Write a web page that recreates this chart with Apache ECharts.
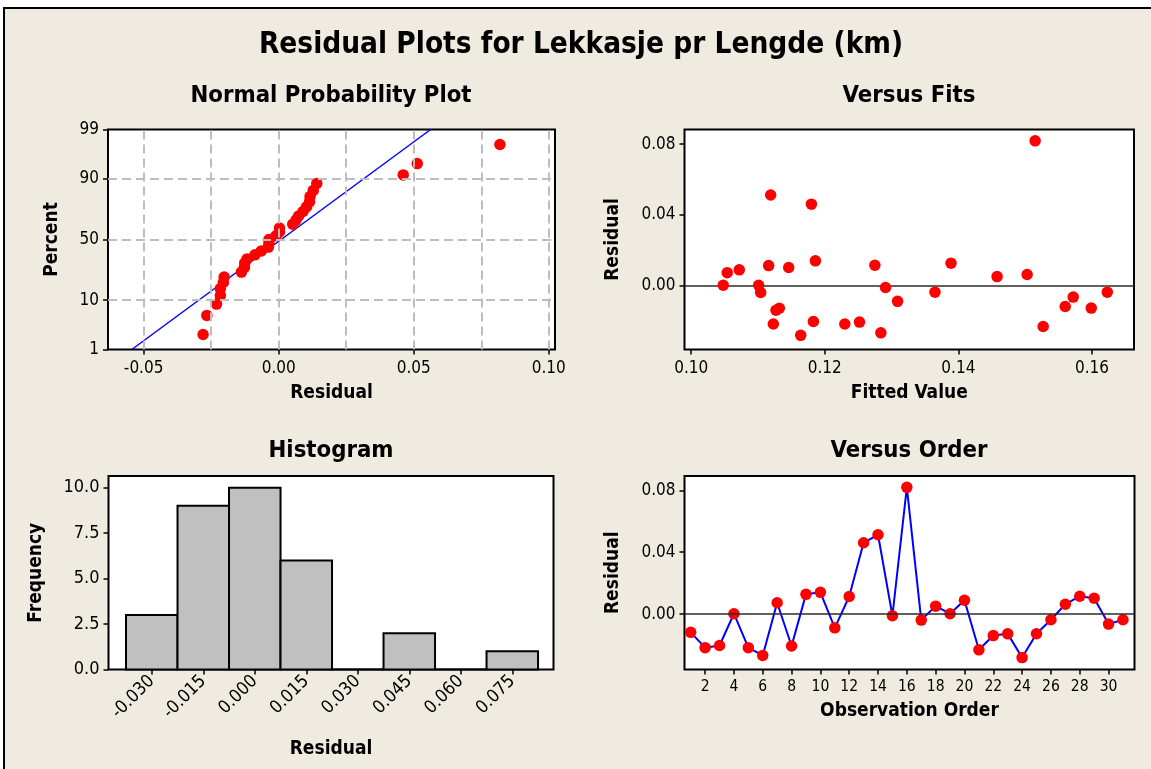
<!DOCTYPE html>
<html>
<head>
<meta charset="utf-8">
<script src="https://cdn.jsdelivr.net/npm/echarts@6/dist/echarts.min.js"></script>
<style>
html,body{margin:0;padding:0;background:#fff;}
#c{width:1151px;height:769px;}
</style>
</head>
<body>
<div id="c"></div>
<script>
// ---------------- data ----------------
const observationOrder = [1,2,3,4,5,6,7,8,9,10,11,12,13,14,15,16,17,18,19,20,21,22,23,24,25,26,27,28,29,30,31];
const residuals = [-0.0117,-0.0216,-0.0202,0.0003,-0.0216,-0.0266,0.0074,-0.0205,0.0128,0.0141,
                   -0.0088,0.0114,0.0461,0.0513,-0.0010,0.0819,-0.0038,0.0052,0.0003,0.0090,
                   -0.0230,-0.0138,-0.0127,-0.0280,-0.0126,-0.0036,0.0064,0.0116,0.0103,-0.0064,-0.0036];
const fittedValues = [0.1560,0.1123,0.1183,0.1048,0.1230,0.1284,0.1054,0.1252,0.1389,0.1186,
                      0.1309,0.1116,0.1180,0.1119,0.1291,0.1515,0.1104,0.1458,0.1101,0.1072,
                      0.1527,0.1127,0.1132,0.1164,0.1599,0.1365,0.1503,0.1275,0.1146,0.1572,0.1623];
const histMidpoints = [-0.030,-0.015,0.000,0.015,0.030,0.045,0.060,0.075];
const histCounts = [3,9,10,6,0,2,0,1];

// tick labels
const percentTicks = [1,10,50,90,99];
const percentGridLines = [10,50,90];
const nppResidualTicks = [-0.05,0.00,0.05,0.10];
const nppResidualGridLines = [-0.05,-0.025,0.00,0.025,0.05,0.075,0.10];
const fitTicks = [0.10,0.12,0.14,0.16];
const residualTicks = [0.00,0.04,0.08];
const orderTicks = [2,4,6,8,10,12,14,16,18,20,22,24,26,28,30];

// ---------------- helpers ----------------
function invNorm(p){
  const a=[-3.969683028665376e+01,2.209460984245205e+02,-2.759285104469687e+02,1.383577518672690e+02,-3.066479806614716e+01,2.506628277459239e+00];
  const b=[-5.447609879822406e+01,1.615858368580409e+02,-1.556989798598866e+02,6.680131188771972e+01,-1.328068155288572e+01];
  const c=[-7.784894002430293e-03,-3.223964580411365e-01,-2.400758277161838e+00,-2.549732539343734e+00,4.374664141464968e+00,2.938163982698783e+00];
  const d=[7.784695709041462e-03,3.224671290700398e-01,2.445134137142996e+00,3.754408661907416e+00];
  const pl=0.02425, ph=1-pl; let q,r;
  if(p<pl){q=Math.sqrt(-2*Math.log(p));return (((((c[0]*q+c[1])*q+c[2])*q+c[3])*q+c[4])*q+c[5])/((((d[0]*q+d[1])*q+d[2])*q+d[3])*q+1);}
  if(p<=ph){q=p-0.5;r=q*q;return (((((a[0]*r+a[1])*r+a[2])*r+a[3])*r+a[4])*r+a[5])*q/(((((b[0]*r+b[1])*r+b[2])*r+b[3])*r+b[4])*r+1);}
  q=Math.sqrt(-2*Math.log(1-p));return -(((((c[0]*q+c[1])*q+c[2])*q+c[3])*q+c[4])*q+c[5])/((((d[0]*q+d[1])*q+d[2])*q+d[3])*q+1);
}

const n = residuals.length;
const sortedRes = residuals.slice().sort((x,y)=>x-y);
const nppPoints = sortedRes.map((v,i)=>[v, invNorm((i+1-0.3)/(n+0.4))]);
const mean = residuals.reduce((s,v)=>s+v,0)/n;
const sd = Math.sqrt(residuals.reduce((s,v)=>s+(v-mean)*(v-mean),0)/(n-1));
const zMin = invNorm(percentTicks[0]/100), zMax = invNorm(percentTicks[percentTicks.length-1]/100);
const fitLine = [[mean+sd*zMin, zMin],[mean+sd*zMax, zMax]];
const percentZ = percentTicks.map(p=>invNorm(p/100));
const binWidth = histMidpoints[1]-histMidpoints[0];
const histData = histMidpoints.map((m,i)=>[m-binWidth/2, m+binWidth/2, histCounts[i]]);

// ---------------- styling ----------------
const FONT = "'DejaVu Sans Condensed', 'DejaVu Sans', sans-serif";
const TICK_FS = 17;
const NAME_FS = 19;
const SUB_FS = 23.7;
const RED = '#FF0000', BLUE = '#0000FF';

function axisCommon(extra){
  const base = {
    axisLine:{show:true, onZero:false, lineStyle:{color:'#000', width:1}},
    axisTick:{show:true, inside:false, length:5, lineStyle:{color:'#000', width:1.5}},
    axisLabel:{color:'#000', fontSize:TICK_FS, fontFamily:FONT, margin:9},
    splitLine:{show:false},
    nameLocation:'middle',
    nameTextStyle:{color:'#000', fontSize:NAME_FS, fontWeight:'bold', fontFamily:FONT}
  };
  for (const k in extra){
    if (base[k] && typeof base[k]==='object' && !Array.isArray(base[k]) && typeof extra[k]==='object' && !Array.isArray(extra[k])) {
      base[k] = Object.assign({}, base[k], extra[k]);
    } else base[k] = extra[k];
  }
  return base;
}

const gridStyle = {show:true, backgroundColor:'#FFFFFF', borderColor:'#000', borderWidth:2};

const option = {
  animation:false,
  backgroundColor:'#EFEBE1',
  grid:[
    Object.assign({left:108, top:129.5, width:447, height:220}, gridStyle),
    Object.assign({left:684.5, top:129.5, width:449.5, height:220}, gridStyle),
    Object.assign({left:108.5, top:476, width:445, height:193.5}, gridStyle),
    Object.assign({left:684.5, top:476, width:450, height:193.5}, gridStyle)
  ],
  xAxis:[
    axisCommon({gridIndex:0, type:'value', min:-0.0632, max:0.1023, name:'Residual', nameGap:34,
      axisTick:{customValues:nppResidualTicks},
      axisLabel:{customValues:nppResidualTicks, formatter:v=>v.toFixed(2), margin:11}}),
    axisCommon({gridIndex:1, type:'value', min:0.0990, max:0.1663, name:'Fitted Value', nameGap:34,
      axisTick:{customValues:fitTicks},
      axisLabel:{customValues:fitTicks, formatter:v=>v.toFixed(2), margin:11}}),
    axisCommon({gridIndex:2, type:'value', min:-0.0426, max:0.0870, name:'Residual', nameGap:70,
      axisTick:{customValues:histMidpoints},
      axisLabel:{customValues:histMidpoints, rotate:45, formatter:v=>v.toFixed(3), margin:9, fontSize:18}}),
    axisCommon({gridIndex:3, type:'value', min:0.57, max:31.8, name:'Observation Order', nameGap:32,
      axisTick:{customValues:orderTicks},
      axisLabel:{customValues:orderTicks, fontSize:15.5, margin:9}})
  ],
  yAxis:[
    axisCommon({gridIndex:0, type:'value', min:zMin, max:zMax, name:'Percent', nameGap:46, nameRotate:90,
      axisTick:{customValues:percentZ},
      axisLabel:{customValues:percentZ, formatter:v=>{
        let best=0; for(let i=1;i<percentZ.length;i++){ if(Math.abs(percentZ[i]-v)<Math.abs(percentZ[best]-v)) best=i; }
        return String(percentTicks[best]); }}}),
    axisCommon({gridIndex:1, type:'value', min:-0.0360, max:0.0883, name:'Residual', nameGap:62, nameRotate:90,
      axisTick:{customValues:residualTicks},
      axisLabel:{customValues:residualTicks, formatter:v=>v.toFixed(2)}}),
    axisCommon({gridIndex:2, type:'value', min:0, max:10.64, interval:2.5, name:'Frequency', nameGap:63, nameRotate:90,
      axisLabel:{formatter:v=>v.toFixed(1), fontSize:18}}),
    axisCommon({gridIndex:3, type:'value', min:-0.0357, max:0.0892, name:'Residual', nameGap:62, nameRotate:90,
      axisTick:{customValues:residualTicks},
      axisLabel:{customValues:residualTicks, formatter:v=>v.toFixed(2)}})
  ],
  series:[
    { // NPP dashed reference grid
      type:'line', xAxisIndex:0, yAxisIndex:0, data:[], z:1, silent:true,
      markLine:{silent:true, precision:6, symbol:['none','none'], label:{show:false}, animation:false,
        lineStyle:{color:'#BDBDBD', width:2, type:[9,5]},
        emphasis:{disabled:true},
        data:[...nppResidualGridLines.map(v=>({xAxis:v})), ...percentGridLines.map(p=>({yAxis:invNorm(p/100)}))]}
    },
    { // fitted normal line
      type:'line', xAxisIndex:0, yAxisIndex:0, data:fitLine, showSymbol:false, symbol:'none', z:2,
      lineStyle:{color:BLUE, width:1.5}, silent:true
    },
    { // NPP points
      type:'scatter', xAxisIndex:0, yAxisIndex:0, data:nppPoints, symbol:'circle', symbolSize:11.5, z:3,
      itemStyle:{color:RED, opacity:1}, silent:true
    },
    { // Versus fits
      type:'scatter', xAxisIndex:1, yAxisIndex:1, data:fittedValues.map((f,i)=>[f, residuals[i]]),
      symbol:'circle', symbolSize:11.5, z:3, itemStyle:{color:RED, opacity:1}, silent:true,
      markLine:{silent:true, precision:6, symbol:['none','none'], label:{show:false}, animation:false, z:1,
        lineStyle:{color:'#2B2B2B', width:1.5, type:'solid'}, emphasis:{disabled:true}, data:[{yAxis:0}]}
    },
    { // Histogram
      type:'custom', xAxisIndex:2, yAxisIndex:2, data:histData, encode:{x:[0,1], y:2}, silent:true,
      renderItem:function(params, api){
        const p0 = api.coord([api.value(0), api.value(2)]);
        const p1 = api.coord([api.value(1), 0]);
        return {type:'rect', shape:{x:p0[0], y:p0[1], width:p1[0]-p0[0], height:p1[1]-p0[1]},
                style:{fill:'#C0C0C0', stroke:'#000', lineWidth:2}};
      }
    },
    { // Versus order
      type:'line', xAxisIndex:3, yAxisIndex:3, data:observationOrder.map((o,i)=>[o, residuals[i]]),
      symbol:'circle', symbolSize:11.5, showSymbol:true, z:3, silent:true,
      lineStyle:{color:BLUE, width:2}, itemStyle:{color:RED, borderWidth:0},
      markLine:{silent:true, precision:6, symbol:['none','none'], label:{show:false}, animation:false,
        lineStyle:{color:'#2B2B2B', width:1.5, type:'solid'}, emphasis:{disabled:true}, data:[{yAxis:0}]}
    }
  ],
  graphic:[
    {type:'rect', shape:{x:0, y:0, width:1151, height:7}, style:{fill:'#FFFFFF'}, silent:true},
    {type:'rect', shape:{x:0, y:0, width:3, height:769}, style:{fill:'#FFFFFF'}, silent:true},
    {type:'line', shape:{x1:3, y1:8, x2:1151, y2:8}, style:{stroke:'#000', lineWidth:2}, silent:true},
    {type:'line', shape:{x1:4, y1:8, x2:4, y2:769}, style:{stroke:'#000', lineWidth:2}, silent:true},
    {type:'text', x:581, y:45, style:{text:'Residual Plots for Lekkasje pr Lengde (km)', fill:'#000',
      font:"bold 29.5px " + FONT, textAlign:'center', textVerticalAlign:'middle'}, silent:true},
    {type:'text', x:331, y:96, style:{text:'Normal Probability Plot', fill:'#000',
      font:"bold " + SUB_FS + "px " + FONT, textAlign:'center', textVerticalAlign:'middle'}, silent:true},
    {type:'text', x:909, y:96, style:{text:'Versus Fits', fill:'#000',
      font:"bold " + SUB_FS + "px " + FONT, textAlign:'center', textVerticalAlign:'middle'}, silent:true},
    {type:'text', x:331, y:451, style:{text:'Histogram', fill:'#000',
      font:"bold " + SUB_FS + "px " + FONT, textAlign:'center', textVerticalAlign:'middle'}, silent:true},
    {type:'text', x:909, y:451, style:{text:'Versus Order', fill:'#000',
      font:"bold " + SUB_FS + "px " + FONT, textAlign:'center', textVerticalAlign:'middle'}, silent:true}
  ]
};

const chart = echarts.init(document.getElementById('c'), null, {renderer:'canvas'});
chart.setOption(option);
</script>
</body>
</html>
